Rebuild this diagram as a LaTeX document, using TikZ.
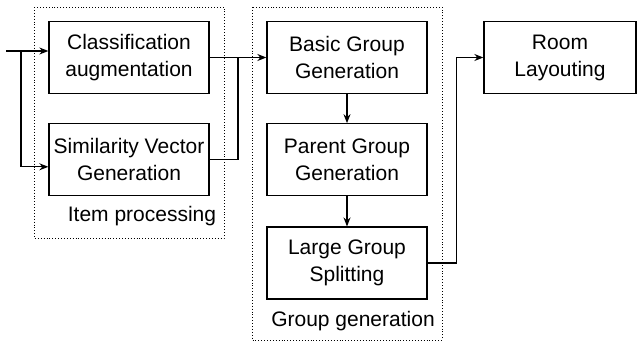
\documentclass[tikz,border=0pt]{standalone}
\usepackage{fontspec}
\setmainfont{Liberation Sans}
\usetikzlibrary{arrows.meta,positioning}

\tikzset{
  stage/.style={draw, line width=1.3pt, minimum width=160pt, minimum height=72pt,
    align=center, inner sep=0pt, font=\fontsize{21}{27}\selectfont},
  frame/.style={draw, dotted, line width=0.9pt},
  flow/.style={line width=1.3pt, -{Stealth[length=9pt,width=7pt]}},
  link/.style={line width=1.3pt},
  caption/.style={font=\fontsize{21}{25}\selectfont}
}

\begin{document}
\begin{tikzpicture}[x=1pt,y=-1pt]
        \useasboundingbox (0,0) rectangle (637,343);
        % dotted groups
        \draw[frame] (34,7) rectangle (224,238);
        \draw[frame] (252,7) rectangle (442,340);
        % item processing
        \node[stage] (classaug) at (129,57.5) {Classification\\augmentation};
        \node[stage, below=29pt of classaug] (simvec) {Similarity Vector\\Generation};
        \node[caption] (itemlbl) at (142,216) {Item processing};
        % group generation
        \node[stage] (basic) at (347,57.5) {Basic Group\\Generation};
        \node[stage, below=29pt of basic] (parent) {Parent Group\\Generation};
        \node[stage, below=30pt of parent] (large) {Large Group\\Splitting};
        \node[caption] (grouplbl) at (353,321) {Group generation};
        % layout
        \node[stage, minimum width=152pt] (room) at (560,57.5) {Room\\Layouting};
        % connectors
        \coordinate (input) at (6,51);
        \coordinate (split) at (21,51);
        \coordinate (join) at (238,57.5);
        \draw[link] (input) -- (split);
        \draw[flow] (split) -- ([yshift=6.5pt]classaug.west);
        \draw[flow] (split) |- ([yshift=-7pt]simvec.west);
        \draw[flow] (classaug.east) -- (basic.west);
        \draw[link] (simvec.east) -| (join);
        \draw[flow] (basic) -- (parent);
        \draw[flow] (parent) -- (large);
        \draw[flow] (large.east) -- ++(29,0) |- (room.west);
\end{tikzpicture}
\end{document}
